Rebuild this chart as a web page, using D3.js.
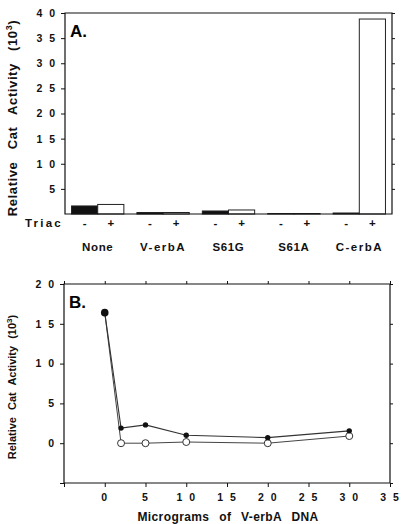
<!DOCTYPE html>
<html>
<head>
<meta charset="utf-8">
<script src="https://cdn.jsdelivr.net/npm/d3@7"></script>
<style>
  body { margin: 0; background: #fff; }
  svg { display: block; font-family: "Liberation Sans", Arial, sans-serif; }
  .tick text { font-weight: bold; font-size: 10.5px; letter-spacing: 2px; fill: #111; }
  .domain, .tick line { stroke: #111; }
</style>
</head>
<body>
<div id="chart"></div>
<script>
// panel A data
const groups = ['None', 'V-erbA', 'S61G', 'S61A', 'C-erbA']
const triac = ['-', '+']
const minusTriac = [1.6, 0.3, 0.6, 0.1, 0.2]
const plusTriac = [1.9, 0.3, 0.8, 0.1, 38.8]
const yTicksA = [5, 10, 15, 20, 25, 30, 35, 40]

// panel B data
const doses = [0, 2, 5, 10, 20, 30]
const filledSeries = [16.4, 1.9, 2.3, 1.0, 0.7, 1.55]
const openSeries = [16.4, 0, 0, 0.15, 0, 0.9]
const xTicksB = [-5, 0, 5, 10, 15, 20, 25, 30, 35]
const yTicksB = [-5, 0, 5, 10, 15, 20]

const width = 402
const height = 524

const svg = d3.select('#chart')
  .append('svg')
  .attr('width', width)
  .attr('height', height)

const spaced = s => String(s).split('').join(' ')

// ---------- Panel A ----------
const a = { left: 65, right: 392, top: 13, bottom: 214 }

const x0 = d3.scaleBand()
  .domain(groups)
  .range([a.left, a.right])
  .paddingInner(0.2)
  .paddingOuter(0.1)

const x1 = d3.scaleBand()
  .domain(triac)
  .range([0, x0.bandwidth()])

const yA = d3.scaleLinear().domain([0, 40]).range([a.bottom, a.top])

const gA = svg.append('g')

gA.append('g')
  .attr('transform', `translate(${a.left},0)`)
  .call(d3.axisLeft(yA).tickValues(yTicksA).tickSize(4).tickPadding(4).tickFormat(spaced))
  .call(g => g.select('.domain').remove())

gA.append('g')
  .attr('transform', `translate(${a.right},0)`)
  .call(d3.axisRight(yA).tickValues(yTicksA).tickSize(3).tickFormat(''))
  .call(g => g.select('.domain').remove())

const barData = groups.map((gName, i) => [
  { group: gName, key: '-', value: minusTriac[i] },
  { group: gName, key: '+', value: plusTriac[i] }
]).flat()

gA.selectAll('rect.bar')
  .data(barData)
  .enter()
  .append('rect')
  .attr('class', 'bar')
  .attr('x', d => x0(d.group) + x1(d.key))
  .attr('y', d => yA(d.value))
  .attr('width', x1.bandwidth())
  .attr('height', d => yA(0) - yA(d.value))
  .attr('fill', d => d.key === '-' ? '#111' : '#fff')
  .attr('stroke', '#222')
  .attr('stroke-width', 1)

// frame
gA.append('path')
  .attr('d', `M${a.left},${a.top}H${a.right}V${a.bottom}H${a.left}Z`)
  .attr('fill', 'none')
  .attr('stroke', '#111')
  .attr('stroke-width', 1.2)

gA.append('text')
  .attr('x', 70)
  .attr('y', 37)
  .attr('font-size', 17)
  .attr('font-weight', 'bold')
  .text('A.')

// Triac row
gA.append('text')
  .attr('x', 25)
  .attr('y', 227)
  .attr('font-size', 11.5)
  .attr('font-weight', 'bold')
  .attr('letter-spacing', 2.2)
  .attr('fill', '#111')
  .text('Triac')

gA.selectAll('text.sign')
  .data(barData)
  .enter()
  .append('text')
  .attr('class', 'sign')
  .attr('x', d => x0(d.group) + x1(d.key) + x1.bandwidth() / 2)
  .attr('y', 227)
  .attr('text-anchor', 'middle')
  .attr('font-size', 11.5)
  .attr('font-weight', 'bold')
  .attr('fill', '#111')
  .text(d => d)
  .text(d => d.key)

gA.selectAll('text.group')
  .data(groups)
  .enter()
  .append('text')
  .attr('class', 'group')
  .attr('x', d => x0(d) + x0.bandwidth() / 2)
  .attr('y', 251)
  .attr('text-anchor', 'middle')
  .attr('font-size', 11.5)
  .attr('font-weight', 'bold')
  .attr('fill', '#111')
  .attr('letter-spacing', d => d.includes('erb') ? 1.5 : 0.6)
  .text(d => d)

const labelA = gA.append('text')
  .attr('transform', 'translate(17,118) rotate(-90)')
  .attr('text-anchor', 'middle')
  .attr('font-size', 13)
  .attr('font-weight', 'bold')
  .attr('letter-spacing', 0.6)
  .attr('word-spacing', 8)
  .attr('fill', '#111')
  .text('Relative Cat Activity (10')
labelA.append('tspan').attr('dy', -5).attr('font-size', 9).text('3')
labelA.append('tspan').attr('dy', 5).text(')')

// ---------- Panel B ----------
const b = { left: 64, right: 390, top: 284, bottom: 483 }

const xB = d3.scaleLinear().domain([-5, 35]).range([b.left, b.right])
const yB = d3.scaleLinear().domain([-5, 20]).range([b.bottom, b.top])

const gB = svg.append('g')

gB.append('g')
  .attr('transform', `translate(${b.left},0)`)
  .call(d3.axisLeft(yB).tickValues(yTicksB).tickSize(4).tickPadding(4)
    .tickFormat(d => d < 0 ? '' : spaced(d)))
  .call(g => g.select('.domain').remove())

gB.append('g')
  .attr('transform', `translate(${b.right},0)`)
  .call(d3.axisRight(yB).tickValues(yTicksB).tickSize(3).tickFormat(''))
  .call(g => g.select('.domain').remove())

gB.append('g')
  .attr('transform', `translate(0,${b.bottom})`)
  .call(d3.axisBottom(xB).tickValues(xTicksB).tickSize(4).tickPadding(7)
    .tickFormat(d => d < 0 ? '' : spaced(d)))
  .call(g => g.select('.domain').remove())

gB.append('g')
  .attr('transform', `translate(0,${b.top})`)
  .call(d3.axisTop(xB).tickValues(xTicksB).tickSize(3).tickFormat(''))
  .call(g => g.select('.domain').remove())

gB.append('path')
  .attr('d', `M${b.left},${b.top}H${b.right}V${b.bottom}H${b.left}Z`)
  .attr('fill', 'none')
  .attr('stroke', '#111')
  .attr('stroke-width', 1.2)

gB.append('text')
  .attr('x', 69)
  .attr('y', 308)
  .attr('font-size', 17)
  .attr('font-weight', 'bold')
  .text('B.')

const line = d3.line()
  .x(d => xB(d[0]))
  .y(d => yB(d[1]))

const openPts = doses.map((d, i) => [d, openSeries[i]])
const filledPts = doses.map((d, i) => [d, filledSeries[i]])

gB.append('path')
  .datum(openPts)
  .attr('d', line)
  .attr('fill', 'none')
  .attr('stroke', '#444')
  .attr('stroke-width', 1)

gB.append('path')
  .datum(filledPts)
  .attr('d', line)
  .attr('fill', 'none')
  .attr('stroke', '#333')
  .attr('stroke-width', 1.1)

gB.selectAll('circle.open')
  .data(openPts.slice(1))
  .enter()
  .append('circle')
  .attr('class', 'open')
  .attr('cx', d => xB(d[0]))
  .attr('cy', d => yB(d[1]))
  .attr('r', 3.5)
  .attr('fill', '#fff')
  .attr('stroke', '#333')
  .attr('stroke-width', 1)

gB.selectAll('circle.filled')
  .data(filledPts)
  .enter()
  .append('circle')
  .attr('class', 'filled')
  .attr('cx', d => xB(d[0]))
  .attr('cy', d => yB(d[1]))
  .attr('r', (d, i) => i === 0 ? 3.8 : 2.7)
  .attr('fill', '#111')

const labelB = gB.append('text')
  .attr('transform', 'translate(16,387) rotate(-90)')
  .attr('text-anchor', 'middle')
  .attr('font-size', 11)
  .attr('font-weight', 'bold')
  .attr('word-spacing', 4)
  .attr('fill', '#111')
  .text('Relative Cat Activity (10')
labelB.append('tspan').attr('dy', -4).attr('font-size', 8).text('3')
labelB.append('tspan').attr('dy', 4).text(')')

gB.append('text')
  .attr('x', 228)
  .attr('y', 521)
  .attr('text-anchor', 'middle')
  .attr('font-size', 12)
  .attr('font-weight', 'bold')
  .attr('letter-spacing', 0.4)
  .attr('word-spacing', 6)
  .attr('fill', '#111')
  .text('Micrograms of V-erbA DNA')
</script>
</body>
</html>
